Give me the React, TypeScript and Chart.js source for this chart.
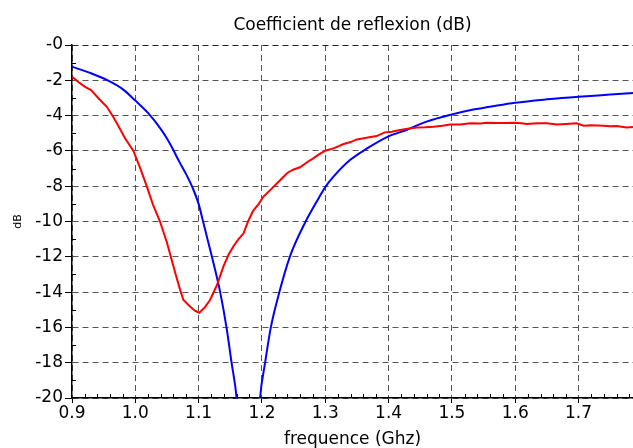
import React, { useEffect, useRef } from "react";
import { Chart, registerables } from "chart.js";

Chart.register(...registerables);

const chartTitle = "Coefficient de reflexion (dB)";
const xTitle = "frequence (Ghz)";
const yTitle = "dB";

const xTicks = [0.9, 1.0, 1.1, 1.2, 1.3, 1.4, 1.5, 1.6, 1.7];
const xTickLabels = ["0.9", "1.0", "1.1", "1.2", "1.3", "1.4", "1.5", "1.6", "1.7"];
const yTicks = [0, -2, -4, -6, -8, -10, -12, -14, -16, -18, -20];
const yTickLabels = ["-0", "-2", "-4", "-6", "-8", "-10", "-12", "-14", "-16", "-18", "-20"];

const xMin = 0.9;
const xMax = 1.786;
const yMin = -20;
const yMax = 0;

// Measured (red)
const redFreq = [
  0.9, 0.91, 0.92, 0.93, 0.944, 0.955, 0.965, 0.975, 0.984, 0.997, 1.008, 1.018, 1.028, 1.039, 1.05,
  1.063, 1.071, 1.076, 1.086, 1.094, 1.101, 1.11, 1.118, 1.129, 1.139, 1.147, 1.155, 1.163, 1.171,
  1.178, 1.186, 1.195, 1.202, 1.215, 1.229, 1.24, 1.25, 1.26, 1.273, 1.281, 1.29, 1.3, 1.313, 1.329,
  1.34, 1.35, 1.365, 1.381, 1.394, 1.405, 1.418, 1.43, 1.445, 1.458, 1.471, 1.485, 1.497, 1.513,
  1.529, 1.545, 1.555, 1.57, 1.585, 1.597, 1.61, 1.618, 1.635, 1.65, 1.666, 1.68, 1.697, 1.708,
  1.72, 1.739, 1.75, 1.76, 1.776, 1.786,
];
const redDb = [
  -1.8, -2.1, -2.36, -2.55, -3.1, -3.5, -4.06, -4.7, -5.3, -6.0, -7.0, -8.0, -9.06, -10.0, -11.2,
  -12.9, -13.9, -14.45, -14.8, -15.05, -15.17, -14.85, -14.45, -13.6, -12.56, -11.9, -11.4, -11.0,
  -10.67, -10.0, -9.4, -9.0, -8.6, -8.15, -7.65, -7.25, -7.05, -6.93, -6.6, -6.42, -6.2, -5.99, -5.86,
  -5.61, -5.5, -5.35, -5.25, -5.16, -4.95, -4.92, -4.82, -4.75, -4.67, -4.66, -4.63, -4.58, -4.5,
  -4.5, -4.44, -4.45, -4.4, -4.42, -4.42, -4.4, -4.44, -4.48, -4.44, -4.44, -4.5, -4.47, -4.44,
  -4.57, -4.55, -4.57, -4.6, -4.59, -4.68, -4.65,
];

// Simulated (blue)
const blueFreq = [
  0.9, 0.93, 0.955, 0.98, 1.0, 1.02, 1.04, 1.05, 1.06, 1.07, 1.08, 1.09, 1.1, 1.107, 1.114, 1.121,
  1.134, 1.144, 1.152, 1.16, 1.168, 1.178, 1.19, 1.197, 1.205, 1.214, 1.2275, 1.244, 1.269, 1.29, 1.3,
  1.313, 1.339, 1.366, 1.399, 1.429, 1.46, 1.5, 1.53, 1.56, 1.6, 1.65, 1.7, 1.75, 1.786,
];
const blueDb = [
  -1.23, -1.6, -1.98, -2.5, -3.15, -3.85, -4.75, -5.3, -5.95, -6.65, -7.3, -8.05, -9.0, -10.0, -11.0,
  -12.0, -14.0, -16.0, -18.0, -20.0, -24.0, -32.0, -24.0, -20.0, -18.0, -16.0, -14.0, -12.0, -10.0,
  -8.65, -8.05, -7.46, -6.52, -5.86, -5.19, -4.8, -4.34, -3.93, -3.68, -3.5, -3.27, -3.08, -2.93,
  -2.81, -2.72,
];

const FONT = "'DejaVu Sans', sans-serif";

const extrasPlugin = {
  id: "extras",
  afterDraw(chart: any) {
    const { ctx, chartArea } = chart;
    const xs = chart.scales.x;
    const ys = chart.scales.y;
    ctx.save();
    ctx.fillStyle = "#000";
    ctx.font = `17px ${FONT}`;
    ctx.textAlign = "center";
    ctx.textBaseline = "alphabetic";
    ctx.fillText(chartTitle, (chartArea.left + chartArea.right) / 2, 30);
    ctx.strokeStyle = "#000";
    ctx.lineWidth = 1;
    ctx.beginPath();
    for (let v = -19; v <= -1; v += 2) {
      const y = Math.round(ys.getPixelForValue(v)) + 0.5;
      ctx.moveTo(chartArea.left, y);
      ctx.lineTo(chartArea.left + 4, y);
    }
    for (let i = 0; i <= 50; i++) {
      const v = 0.9 + i * 0.02;
      if (v > xMax) break;
      if (i % 5 === 0) continue;
      const x = Math.round(xs.getPixelForValue(v)) + 0.5;
      ctx.moveTo(x, chartArea.bottom);
      ctx.lineTo(x, chartArea.bottom - 4);
    }
    ctx.stroke();
    ctx.restore();
  },
};

export default function App() {
  const ref = useRef<HTMLCanvasElement | null>(null);
  useEffect(() => {
    if (!ref.current) return;
    const chart = new Chart(ref.current, {
      type: "line",
      data: {
        datasets: [
          {
            label: "mesure",
            data: redFreq.map((f, i) => ({ x: f, y: redDb[i] })),
            borderColor: "#ff0000",
            borderWidth: 2,
            pointRadius: 0,
            fill: false,
            tension: 0,
          },
          {
            label: "simulation",
            data: blueFreq.map((f, i) => ({ x: f, y: blueDb[i] })),
            borderColor: "#0000ff",
            borderWidth: 2,
            pointRadius: 0,
            fill: false,
            cubicInterpolationMode: "monotone",
          },
        ],
      },
      options: {
        responsive: false,
        animation: false,
        events: [],
        layout: { padding: { top: 45, left: 0, right: 0, bottom: 0 } },
        plugins: {
          legend: { display: false },
          title: { display: false },
          tooltip: { enabled: false },
        },
        scales: {
          x: {
            type: "linear",
            min: xMin,
            max: xMax,
            afterBuildTicks: (scale: any) => {
              scale.ticks = xTicks.map((v) => ({ value: v }));
            },
            afterFit: (scale: any) => {
              scale.height = 50;
            },
            ticks: {
              autoSkip: false,
              maxRotation: 0,
              padding: 2,
              color: "#000",
              font: { family: FONT, size: 17, lineHeight: 1 },
              callback: (_v: any, i: number) => xTickLabels[i],
            },
            grid: {
              color: "#555",
              lineWidth: 1,
              drawTicks: true,
              tickLength: 5,
              tickColor: "#000",
              tickWidth: 1,
              tickBorderDash: [],
            },
            border: { display: true, color: "#000", width: 1.5, dash: [6, 4] },
            title: {
              display: true,
              text: xTitle,
              color: "#000",
              font: { family: FONT, size: 17, lineHeight: 1 },
              padding: { top: 0, bottom: 0 },
            },
          },
          y: {
            type: "linear",
            min: yMin,
            max: yMax,
            afterBuildTicks: (scale: any) => {
              scale.ticks = yTicks.map((v) => ({ value: v }));
            },
            afterFit: (scale: any) => {
              scale.width = 72;
            },
            ticks: {
              autoSkip: false,
              padding: 2,
              color: "#000",
              font: { family: FONT, size: 17, lineHeight: 1 },
              callback: (_v: any, i: number) => yTickLabels[i],
            },
            grid: {
              color: (c: any) => (c.tick && c.tick.value === 0 ? "#222" : "#555"),
              lineWidth: 1,
              drawTicks: true,
              tickLength: 7,
              tickColor: "#000",
              tickWidth: 1,
              tickBorderDash: [],
            },
            border: { display: true, color: "#000", width: 1.5, dash: [6, 4] },
            title: {
              display: true,
              text: yTitle,
              color: "#000",
              font: { family: FONT, size: 11, lineHeight: 1 },
              padding: { top: 13, bottom: 0 },
            },
          },
        },
      },
      plugins: [extrasPlugin],
    } as any);
    return () => chart.destroy();
  }, []);

  return (
    <div style={{ position: "fixed", left: 0, top: 0, width: 633, height: 448, background: "#fff" }}>
      <canvas ref={ref} width={633} height={448} style={{ display: "block" }} />
    </div>
  );
}
